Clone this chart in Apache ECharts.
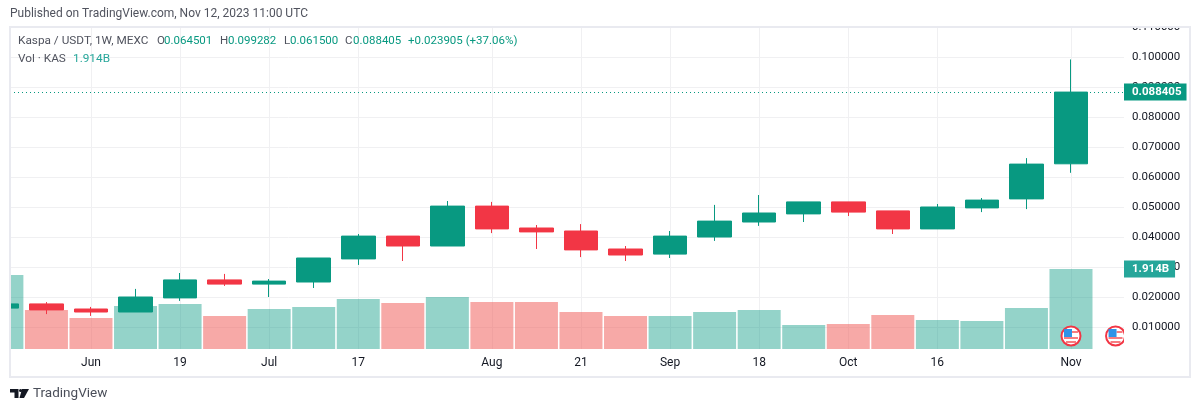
<!DOCTYPE html>
<html>
<head>
<meta charset="utf-8">
<style>
  html, body { margin: 0; padding: 0; background: #fff; }
  #chart { width: 1200px; height: 412px; }
</style>
<script src="https://cdn.jsdelivr.net/npm/echarts@6/dist/echarts.min.js"></script>
</head>
<body>
<div id="chart"></div>
<script>
// weekly bars, Mon 22 May 2023 to Mon 6 Nov 2023
const weeks = ['May 22','May 29','Jun 5','Jun 12','Jun 19','Jun 26','Jul 3','Jul 10','Jul 17','Jul 24','Jul 31','Aug 7','Aug 14','Aug 21','Aug 28','Sep 4','Sep 11','Sep 18','Sep 25','Oct 2','Oct 9','Oct 16','Oct 23','Oct 30','Nov 6'];
const opens  = [0.0164,0.0178,0.0161,0.0151,0.0198,0.0258,0.0244,0.0251,0.0328,0.0404,0.0371,0.0504,0.0431,0.0421,0.0361,0.0344,0.0401,0.0451,0.0478,0.0518,0.0488,0.0428,0.0498,0.0528,0.064501];
const closes = [0.0178,0.0158,0.0151,0.0201,0.0258,0.0244,0.0254,0.0331,0.0404,0.0371,0.0504,0.0428,0.0418,0.0358,0.0341,0.0404,0.0454,0.0481,0.0518,0.0484,0.0428,0.0501,0.0524,0.0644,0.088405];
const lows   = [0.0160,0.0144,0.0138,0.0151,0.0188,0.0238,0.0201,0.0231,0.0308,0.0321,0.0371,0.0414,0.0361,0.0334,0.0321,0.0331,0.0388,0.0438,0.0451,0.0471,0.0411,0.0428,0.0484,0.0494,0.0615];
const highs  = [0.0180,0.0184,0.0168,0.0228,0.0281,0.0278,0.0261,0.0331,0.0411,0.0404,0.0521,0.0518,0.0441,0.0444,0.0371,0.0421,0.0508,0.0541,0.0518,0.0518,0.0488,0.0511,0.0531,0.0664,0.099282];
const volumes = [1.771,0.933,0.742,1.029,1.077,0.790,0.957,1.005,1.197,1.101,1.244,1.125,1.125,0.885,0.790,0.790,0.885,0.933,0.574,0.598,0.814,0.694,0.670,0.981,1.914]; // billions

const xTicks = [2,4,6,8,11,13,15,17,19,21,24];
const xTickLabels = ['Jun','19','Jul','17','Aug','21','Sep','18','Oct','16','Nov'];
const priceTicks = [0.01,0.02,0.03,0.04,0.05,0.06,0.07,0.08,0.09,0.10,0.11];
const lastPrice = 0.088405;
const lastVolume = 1.914;
const flagBars = [24, 25];

const UP = '#089981', DOWN = '#F23645';
const FONT = 'Roboto, sans-serif';

const candles = weeks.map((w, i) => [i, opens[i], closes[i], lows[i], highs[i]]);
const volBars = weeks.map((w, i) => ({
  value: [i, volumes[i]],
  itemStyle: { color: closes[i] >= opens[i] ? 'rgba(8,153,129,0.43)' : 'rgba(239,83,80,0.5)' }
}));

function txt(text, x, y, fill, size) {
  return { type: 'text', z: 110, x, y, style: { text, fill, font: size + 'px ' + FONT, textVerticalAlign: 'middle' } };
}

const texts = [
  txt('Published on TradingView.com, Nov 12, 2023 11:00 UTC', 10, 14, '#50535E', 12),
  txt('Kaspa / USDT, 1W, MEXC', 18, 41, '#50535E', 11.8),
  txt('O', 157, 41, '#50535E', 11.5), txt('0.064501', 164, 41, UP, 11.5),
  txt('H', 220, 41, '#50535E', 11.5), txt('0.099282', 228, 41, UP, 11.5),
  txt('L', 284, 41, '#50535E', 11.5), txt('0.061500', 290, 41, UP, 11.5),
  txt('C', 345, 41, '#50535E', 11.5), txt('0.088405', 353, 41, UP, 11.5),
  txt('+0.023905 (+37.06%)', 408, 41, UP, 11.5),
  txt('Vol · KAS', 18, 59, '#50535E', 11.8),
  txt('1.914B', 73, 59, '#26A69A', 11.8),
  txt('TradingView', 33, 394, '#4A4E59', 13.5)
];

const option = {
  animation: false,
  backgroundColor: '#fff',
  textStyle: { fontFamily: FONT },
  grid: { left: 10, right: 76, top: 27, bottom: 63, containLabel: false },
  xAxis: {
    type: 'value',
    min: 0.182,
    max: 25.19,
    axisLine: { show: false },
    axisTick: { show: false, customValues: xTicks },
    axisLabel: {
      customValues: xTicks,
      color: '#131722',
      fontSize: 12,
      margin: 8,
      formatter: v => xTickLabels[xTicks.indexOf(v)]
    },
    splitLine: { show: true, lineStyle: { color: '#F0F0F2', width: 1 } }
  },
  yAxis: [
    {
      type: 'value',
      position: 'right',
      min: 0.00277,
      max: 0.1101,
      axisLine: { show: false },
      axisTick: { show: false, customValues: priceTicks },
      axisLabel: {
        customValues: priceTicks,
        color: '#131722',
        fontSize: 11.5,
        margin: 8,
        formatter: v => v.toFixed(6)
      },
      splitLine: { show: true, lineStyle: { color: '#F0F0F2', width: 1 } }
    },
    { type: 'value', show: false, min: 0, max: 7.7, splitLine: { show: false } }
  ],
  series: [
    {
      name: 'Vol',
      type: 'bar',
      yAxisIndex: 1,
      barWidth: 43,
      z: 2,
      data: volBars,
      markLine: {
        silent: true,
        symbol: 'none',
        precision: 3,
        lineStyle: { color: 'transparent', width: 0 },
        label: {
          position: 'end',
          distance: 0,
          formatter: p => p.value.toFixed(3) + 'B',
          color: '#fff',
          fontWeight: 'bold',
          fontSize: 11.5,
          backgroundColor: '#26A69A',
          padding: [3, 6, 2, 8]
        },
        data: [{ yAxis: lastVolume }]
      }
    },
    {
      name: 'Kaspa / USDT',
      type: 'candlestick',
      barWidth: 34,
      z: 3,
      encode: { x: 0, y: [1, 2, 3, 4] },
      itemStyle: { color: UP, color0: DOWN, borderColor: UP, borderColor0: DOWN, borderWidth: 1 },
      data: candles,
      markLine: {
        silent: true,
        symbol: 'none',
        precision: 6,
        lineStyle: { color: UP, type: [1, 3], width: 1 },
        label: {
          position: 'end',
          distance: 0,
          formatter: p => p.value.toFixed(6),
          color: '#fff',
          fontWeight: 'bold',
          fontSize: 11.5,
          backgroundColor: UP,
          padding: [3, 5, 2, 8]
        },
        data: [{ yAxis: lastPrice }]
      }
    },
    {
      name: 'events',
      type: 'custom',
      z: 4,
      clip: true,
      data: flagBars.map(i => [i, 0.0071]),
      encode: { x: 0, y: 1 },
      renderItem: (params, api) => {
        const p = api.coord([api.value(0), api.value(1)]);
        const x = p[0], y = p[1];
        return {
          type: 'group',
          children: [
            { type: 'circle', shape: { cx: x, cy: y, r: 9.5 }, style: { fill: '#fff', stroke: '#F23645', lineWidth: 2 } },
            { type: 'rect', shape: { x: x - 7, y: y + 1, width: 14, height: 2 }, style: { fill: '#F77C80' } },
            { type: 'rect', shape: { x: x - 5, y: y + 5, width: 10, height: 2 }, style: { fill: '#F77C80' } },
            { type: 'rect', shape: { x: x + 1, y: y - 5, width: 6, height: 2 }, style: { fill: '#F77C80' } },
            { type: 'rect', shape: { x: x - 7, y: y - 7, width: 8, height: 8 }, style: { fill: '#2E93E8' } }
          ]
        };
      }
    }
  ],
  graphic: [
    // hides the top half of the clipped 0.110000 label, as in the source
    { type: 'rect', z: 100, shape: { x: 1124, y: 12, width: 70, height: 15 }, style: { fill: '#fff' } },
    // the first week starts left of the pane
    { type: 'rect', z: 100, shape: { x: 0, y: 27, width: 10, height: 330 }, style: { fill: '#fff' } },
    { type: 'rect', z: 105, shape: { x: 10, y: 27, width: 1180, height: 350 }, style: { fill: 'none', stroke: '#E9EAF0', lineWidth: 2 } },
    // TradingView logo
    { type: 'polygon', z: 110, shape: { points: [[10, 389], [18.5, 389], [18.5, 398], [14.5, 398], [14.5, 392.5], [10, 392.5]] }, style: { fill: '#131722' } },
    { type: 'polygon', z: 110, shape: { points: [[22, 389], [29, 389], [24, 398], [19.5, 398]] }, style: { fill: '#131722' } },
    { type: 'circle', z: 110, shape: { cx: 20.6, cy: 390.5, r: 1.6 }, style: { fill: '#131722' } }
  ].concat(texts)
};

const chart = echarts.init(document.getElementById('chart'));
chart.setOption(option);
</script>
</body>
</html>
